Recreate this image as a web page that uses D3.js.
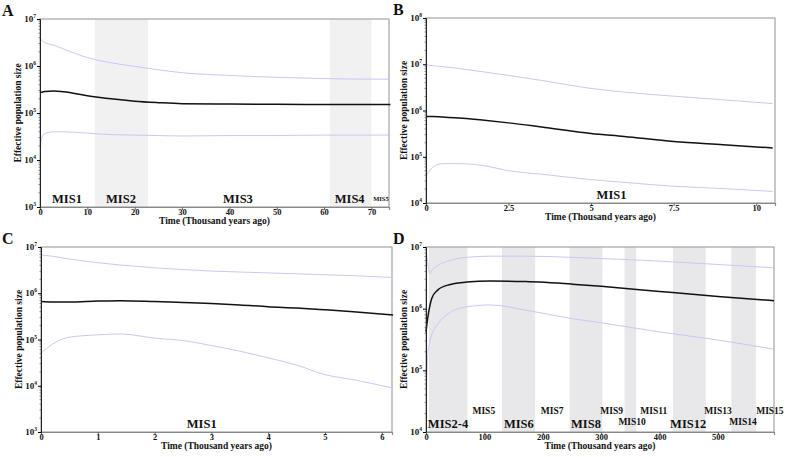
<!DOCTYPE html>
<html><head><meta charset="utf-8">
<script src="https://cdn.jsdelivr.net/npm/d3@7"></script>
<style>
body{margin:0;background:#fff;}
svg text{font-family:"Liberation Serif","Times New Roman",Times,serif !important;font-weight:bold;fill:#111;}
</style></head>
<body><svg id="chart" width="787" height="457"></svg>
<script>
// ---- Panel A ----
const timeA   = [0,0.3,1,3,5,10,15,20,25,30,40,50,60,70,74];
const medianA = [2.69e5,2.75e5,2.88e5,2.95e5,2.82e5,2.34e5,2.0e5,1.78e5,1.66e5,1.58e5,1.55e5,1.53e5,1.51e5,1.51e5,1.51e5];
const upperA  = [4.17e6,3.55e6,3.16e6,2.75e6,2.29e6,1.51e6,1.17e6,9.8e5,8.3e5,7.2e5,6.3e5,5.75e5,5.4e5,5.25e5,5.25e5];
const lowerA  = [1.26e4,2.82e4,3.63e4,3.98e4,3.98e4,3.72e4,3.47e4,3.39e4,3.31e4,3.24e4,3.31e4,3.31e4,3.39e4,3.39e4,3.39e4];
const bandsA  = [[11.6,22.8],[61.2,70]];
const misLabelsA = [{t:5.7,text:"MIS1",size:"big"},{t:17.1,text:"MIS2",size:"big"},{t:41.8,text:"MIS3",size:"big"},{t:65.4,text:"MIS4",size:"big"},{t:72,text:"MIS5",size:"tiny"}];
const xTicksA = [0,10,20,30,40,50,60,70];

// ---- Panel B ----
const timeB   = [0,0.2,0.5,1,1.7,2.5,3.5,5,6,7.5,9,10.5];
const medianB = [7.4e5,7.4e5,7.2e5,6.9e5,6.2e5,5.4e5,4.4e5,3.2e5,2.75e5,2.14e5,1.82e5,1.55e5];
const upperB  = [9.8e6,9.3e6,8.9e6,8.1e6,6.9e6,5.75e6,4.47e6,3.0e6,2.5e6,2.04e6,1.7e6,1.41e6];
const lowerB  = [3.8e4,5.9e4,7.1e4,7.1e4,6.5e4,5.0e4,4.2e4,3.2e4,2.8e4,2.3e4,2.05e4,1.78e4];
const misLabelsB = [{t:5.62,text:"MIS1",size:"big"}];
const xTicksB = [0,2.5,5,7.5,10];

// ---- Panel C ----
const timeC   = [0,0.2,0.5,1,1.4,2,2.5,3,3.5,4,4.5,5,5.5,6.2];
const medianC = [6.6e5,6.45e5,6.45e5,6.76e5,6.9e5,6.6e5,6.3e5,6.0e5,5.6e5,5.1e5,4.8e5,4.4e5,4.0e5,3.4e5];
const upperC  = [6.76e6,6.3e6,5.5e6,4.57e6,4.07e6,3.55e6,3.24e6,3.02e6,2.88e6,2.75e6,2.63e6,2.51e6,2.4e6,2.19e6];
const lowerC  = [5.0e4,7.9e4,1.12e5,1.26e5,1.32e5,1.07e5,9.5e4,7.4e4,5.6e4,4.0e4,2.8e4,1.74e4,1.35e4,8.9e3];
const misLabelsC = [{t:2.83,text:"MIS1",size:"big"}];
const xTicksC = [0,1,2,3,4,5,6];

// ---- Panel D ----
const timeD   = [0,3,6,10,20,40,70,110,170,250,300,400,500,596];
const medianD = [4.2e5,7.1e5,1.05e6,1.48e6,2.0e6,2.45e6,2.7e6,2.8e6,2.75e6,2.5e6,2.3e6,1.9e6,1.58e6,1.35e6];
const upperD  = [9.3e6,5.6e6,3.7e6,4.2e6,5.0e6,6.0e6,6.8e6,7.1e6,7.1e6,6.8e6,6.5e6,5.9e6,5.2e6,4.6e6];
const lowerD  = [2.8e4,1.8e5,2.8e5,3.8e5,5.6e5,8.5e5,1.07e6,1.15e6,9.5e5,6.9e5,5.9e5,4.2e5,3.1e5,2.2e5];
const bandsD  = [[5,71],[130,187],[246,302],[340,360],[423,479],[523,565]];
const misLabelsD = [
  {t:37.7,text:"MIS2-4",size:"big"},{t:99,text:"MIS5",size:"smallHi"},{t:159,text:"MIS6",size:"big"},
  {t:216,text:"MIS7",size:"smallHi"},{t:274,text:"MIS8",size:"big"},{t:318,text:"MIS9",size:"smallHi"},
  {t:353,text:"MIS10",size:"smallLo"},{t:390,text:"MIS11",size:"smallHi"},{t:449,text:"MIS12",size:"big"},
  {t:500,text:"MIS13",size:"smallHi"},{t:543,text:"MIS14",size:"smallLo"},{t:589,text:"MIS15",size:"smallHi"}];
const xTicksD = [0,100,200,300,400,500];

const xTitle = "Time (Thousand years ago)";
const yTitle = "Effective population size";
const FONT = '"Liberation Serif","Times New Roman",Times,serif';

const svg = d3.select("#chart");

function drawPanel(o){
  const g = svg.append("g").attr("font-family",FONT);
  const x = d3.scaleLinear().domain(o.xDomain).range([o.left,o.right]);
  const y = d3.scaleLog().domain(o.yDomain).range([o.bottom,o.top]);
  const h = o.bottom - o.top;
  g.selectAll("rect.band").data(o.bands||[]).enter().append("rect")
    .attr("x",d=>x(d[0])).attr("width",d=>x(d[1])-x(d[0]))
    .attr("y",o.top).attr("height",h).attr("fill",o.bandColor);
  g.append("rect").attr("x",o.left).attr("y",o.top).attr("width",o.right-o.left).attr("height",h)
    .attr("fill","none").attr("stroke","#a3a3a3").attr("stroke-width",1.2);
  const line = d3.line().x(d=>x(d[0])).y(d=>y(d[1])).curve(d3.curveMonotoneX);
  const mk = arr => o.time.map((t,i)=>[t,arr[i]]);
  g.append("path").attr("d",line(mk(o.upper))).attr("fill","none").attr("stroke","#c8c8f6").attr("stroke-width",1);
  g.append("path").attr("d",line(mk(o.lower))).attr("fill","none").attr("stroke","#c8c8f6").attr("stroke-width",1);
  g.append("path").attr("d",line(mk(o.median))).attr("fill","none").attr("stroke","#111").attr("stroke-width",1.5);
  const fs = {big:12.5, smallHi:9.5, smallLo:9.5, tiny:6.5};
  const by = {big:o.bottom-4, smallHi:o.bottom-18, smallLo:o.bottom-7, tiny:o.bottom-6};
  g.selectAll("text.mis").data(o.mis).enter().append("text")
    .attr("x",d=>x(d.t)).attr("y",d=>by[d.size]).attr("text-anchor","middle")
    .style("font-size",d=>fs[d.size]+"px").text(d=>d.text);
  const xa = g.append("g").attr("transform",`translate(0,${o.bottom})`)
    .call(d3.axisBottom(x).tickValues(o.xTicks).tickSize(3).tickFormat(d=>d));
  xa.attr("font-family",FONT);
  xa.select(".domain").attr("stroke","#888").attr("stroke-width",1.2);
  xa.selectAll(".tick line").attr("stroke","#666");
  xa.selectAll("text").style("font-size","8.5px").attr("dy",null).attr("y",7.5);
  const exps = d3.range(Math.log10(o.yDomain[0]), Math.log10(o.yDomain[1])+1);
  const ya = g.append("g").attr("transform",`translate(${o.left},0)`)
    .call(d3.axisLeft(y).tickValues(exps.map(e=>Math.pow(10,e))).tickSize(3).tickFormat(""));
  ya.select(".domain").attr("stroke","#222").attr("stroke-width",1);
  const minors=[];
  exps.slice(0,-1).forEach(e=>{for(let k=2;k<10;k++)minors.push(k*Math.pow(10,e));});
  g.selectAll("line.minor").data(minors).enter().append("line")
    .attr("x1",o.left-1.5).attr("x2",o.left).attr("y1",d=>y(d)).attr("y2",d=>y(d)).attr("stroke","#444").attr("stroke-width",0.6);
  const lab = g.selectAll("text.ylab").data(exps).enter().append("text")
    .attr("x",o.left-4).attr("y",d=>y(Math.pow(10,d))+3).attr("text-anchor","end").style("font-size","9px");
  lab.append("tspan").text("10");
  lab.append("tspan").attr("dy",-4).style("font-size","5.5px").text(d=>d);
  g.append("text").attr("x",(o.left+o.right)/2).attr("y",o.bottom+17).attr("text-anchor","middle")
    .style("font-size","9.5px").text(xTitle);
  g.append("text").attr("transform",`translate(${o.left-19},${(o.top+o.bottom)/2}) rotate(-90)`)
    .attr("text-anchor","middle").style("font-size","9.5px").text(yTitle);
  g.append("text").attr("x",o.letterX).attr("y",o.top-3).style("font-size","16px").text(o.letter);
}

drawPanel({letter:"A",letterX:2,left:40,right:389,top:19,bottom:207,xDomain:[0,73.7],yDomain:[1e3,1e7],
  time:timeA,median:medianA,upper:upperA,lower:lowerA,bands:bandsA,bandColor:"#f2f1f2",mis:misLabelsA,xTicks:xTicksA});
drawPanel({letter:"B",letterX:393,left:426,right:775,top:18,bottom:203,xDomain:[0,10.57],yDomain:[1e4,1e8],
  time:timeB,median:medianB,upper:upperB,lower:lowerB,bands:[],bandColor:"#eee",mis:misLabelsB,xTicks:xTicksB});
drawPanel({letter:"C",letterX:2,left:41,right:392,top:247,bottom:432,xDomain:[0,6.18],yDomain:[1e3,1e7],
  time:timeC,median:medianC,upper:upperC,lower:lowerC,bands:[],bandColor:"#eee",mis:misLabelsC,xTicks:xTicksC});
drawPanel({letter:"D",letterX:393,left:426,right:774,top:247,bottom:432,xDomain:[0,596],yDomain:[1e4,1e7],
  time:timeD,median:medianD,upper:upperD,lower:lowerD,bands:bandsD,bandColor:"#e8e8ea",mis:misLabelsD,xTicks:xTicksD});
</script></body></html>
